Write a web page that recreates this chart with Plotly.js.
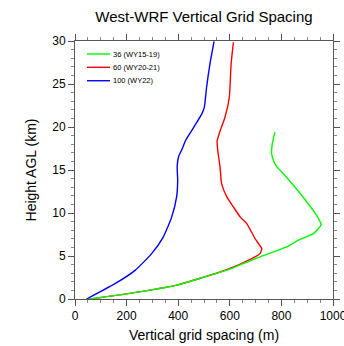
<!DOCTYPE html>
<html>
<head>
<meta charset="utf-8">
<script src="https://cdn.plot.ly/plotly-3.0.1.min.js"></script>
<style>html,body{margin:0;padding:0;background:#fff;}#chart{width:344px;height:346px;}</style>
</head>
<body>
<div id="chart"></div>
<script>
// Series names
var seriesNames = ["36 (WY15-19)", "60 (WY20-21)", "100 (WY22)"];
var seriesColors = ["#00ff00", "#ff0000", "#0000ff"];

// 36 levels (green): grid spacing (m) vs height (km)
var green_dz = [55, 200, 390, 500, 588, 717, 820, 866, 924, 954, 937, 872, 807, 782, 768, 762, 765, 775];
var green_z  = [0, 0.6, 1.58, 2.55, 3.35, 4.9, 6.05, 6.85, 7.6, 8.65, 9.7, 12.3, 14.6, 15.4, 16.2, 16.95, 18.1, 19.4];

// 60 levels (red)
var red_dz = [55, 200, 390, 500, 588, 685, 717, 724, 711, 698, 665, 640, 614, 588, 568, 562, 553, 551, 562, 581, 598, 605, 614];
var red_z  = [0, 0.6, 1.58, 2.55, 3.4, 4.7, 5.28, 5.86, 6.45, 7.03, 8.8, 9.55, 10.7, 11.9, 13.45, 15.4, 17.35, 18.4, 19.5, 21.1, 23.4, 27.3, 29.85];

// 100 levels (blue)
var blue_dz = [45, 155, 233, 297, 342, 375, 394, 398, 396, 402, 416, 428, 459, 491, 501, 510, 523, 539];
var blue_z  = [0, 1.78, 3.33, 5.28, 7.2, 9.55, 11.9, 13.85, 15.4, 16.6, 17.5, 18.4, 19.9, 21.5, 22.25, 24.6, 27.3, 29.95];

var xTicks = [0, 200, 400, 600, 800, 1000];
var yTicks = [0, 5, 10, 15, 20, 25, 30];

var traceData = [[red_dz, red_z, 1], [blue_dz, blue_z, 2], [green_dz, green_z, 0]];
var traces = traceData.map(function (d) {
  return {
    x: d[0], y: d[1], type: 'scatter', mode: 'lines',
    name: seriesNames[d[2]],
    line: {color: seriesColors[d[2]], width: 1.4, shape: 'spline', smoothing: 0.5},
    showlegend: false, hoverinfo: 'skip'
  };
});

// custom legend (key lines + labels), positioned in paper units
var legY = [0.9496, 0.898, 0.846];
var shapes = [], annotations = [];
for (var i = 0; i < seriesNames.length; i++) {
  shapes.push({type: 'line', xref: 'paper', yref: 'paper', x0: 0.0465, x1: 0.1357, y0: legY[i], y1: legY[i],
    line: {color: seriesColors[i], width: 1.4}});
  annotations.push({xref: 'paper', yref: 'paper', x: 0.139, y: legY[i], xanchor: 'left', yanchor: 'middle',
    text: seriesNames[i], showarrow: false, font: {family: 'Liberation Sans, Arial, sans-serif', size: 7.5, color: '#000'}});
}

var axisCommon = {
  showline: true, linecolor: '#555', linewidth: 1, mirror: 'allticks',
  ticks: 'outside', ticklen: 6, tickwidth: 1, tickcolor: '#555',
  showgrid: false, zeroline: false, ticklabeloverflow: 'allow',
  tickfont: {family: 'Liberation Sans, Arial, sans-serif', size: 12, color: '#000'}
};

var layout = {
  width: 344, height: 346,
  margin: {l: 75, r: 11, t: 41, b: 47, pad: 0},
  paper_bgcolor: '#fff', plot_bgcolor: '#fff',
  title: {text: 'West-WRF Vertical Grid Spacing', x: 0.5, xref: 'paper', y: 0.951, yref: 'container', yanchor: 'middle',
    font: {family: 'Liberation Sans, Arial, sans-serif', size: 15, color: '#000'}},
  xaxis: Object.assign({}, axisCommon, {
    range: [0, 1000], tickvals: xTicks, ticktext: xTicks.map(String),
    minor: {dtick: 50, ticks: 'outside', ticklen: 3, tickcolor: '#888', showgrid: false},
    title: {text: 'Vertical grid spacing (m)', standoff: 7, font: {family: 'Liberation Sans, Arial, sans-serif', size: 14, color: '#000'}}
  }),
  yaxis: Object.assign({}, axisCommon, {
    range: [0, 30], tickvals: yTicks, ticktext: yTicks.map(String),
    minor: {dtick: 1, ticks: 'outside', ticklen: 3, tickcolor: '#888', showgrid: false},
    title: {text: 'Height AGL (km)', standoff: 12, font: {family: 'Liberation Sans, Arial, sans-serif', size: 14, color: '#000'}}
  }),
  shapes: shapes,
  annotations: annotations,
  showlegend: false
};

Plotly.newPlot('chart', traces, layout, {displayModeBar: false, staticPlot: true});
</script>
</body>
</html>
